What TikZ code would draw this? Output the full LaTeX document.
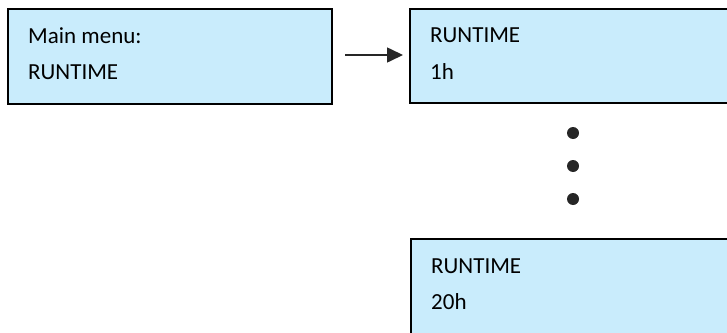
\documentclass[tikz,border=0pt]{standalone}
\usepackage{fontspec}
\setmainfont{Carlito}
\usetikzlibrary{arrows.meta}
\definecolor{boxfill}{RGB}{201,236,252}
\definecolor{inkdark}{RGB}{38,38,38}
\begin{document}
\begin{tikzpicture}[x=1pt,y=-1pt,
  screen/.style={draw=black, line width=1.6pt, fill=boxfill, rectangle, inner sep=0pt, outer sep=0pt, anchor=north west},
  boxtext/.style={anchor=base west, inner sep=0pt, font=\fontsize{23}{27}\selectfont, text=black},
  dotmark/.style={circle, fill=inkdark, draw=none, inner sep=0pt, minimum size=12pt},
  flow/.style={-{Triangle[length=16pt,width=15pt]}, line width=1.6pt, draw=inkdark, fill=inkdark}]
\useasboundingbox (0,0) rectangle (727,332);
\clip (0,0) rectangle (727,332);
\node[screen, minimum width=324pt, minimum height=95pt] (menu) at (8,9) {};
\node[screen, minimum width=340pt, minimum height=94pt] (run1) at (410,9) {};
\node[screen, minimum width=340pt, minimum height=120pt] (run20) at (411,239) {};
\node[boxtext] (menuA) at (28,43) {Main menu:};
\node[boxtext] (menuB) at (28,79) {RUNTIME};
\node[boxtext] (runA) at (430,42) {RUNTIME};
\node[boxtext] (runB) at (430,79) {1h};
\node[boxtext] (runC) at (431,273) {RUNTIME};
\node[boxtext] (runD) at (431,309) {20h};
\node[dotmark] (d1) at (573,133) {};
\node[dotmark] (d2) at (573,166) {};
\node[dotmark] (d3) at (573,199) {};
\draw[flow, shorten <=13pt, shorten >=7pt] ([yshift=1.5pt]menu.east) -- ([yshift=1pt]run1.west);
\end{tikzpicture}
\end{document}
